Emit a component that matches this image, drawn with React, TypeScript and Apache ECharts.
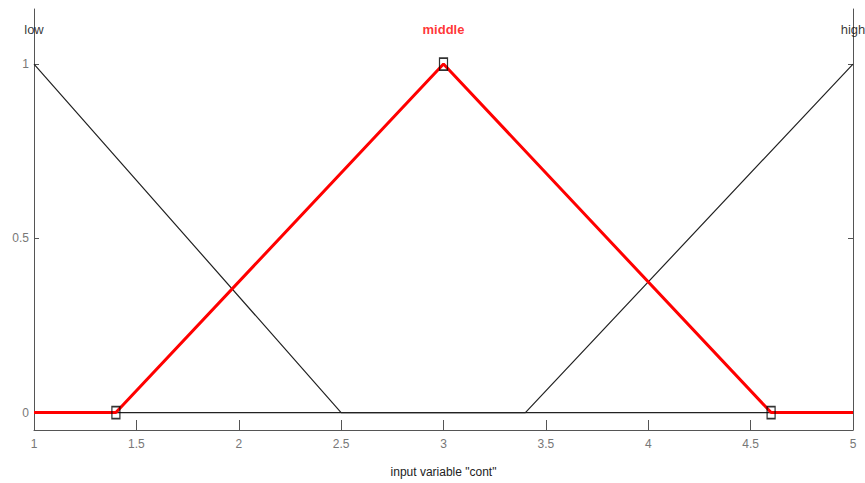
import React, { useEffect, useRef } from "react";
import * as echarts from "echarts";

const xTicks = [1, 1.5, 2, 2.5, 3, 3.5, 4, 4.5, 5];
const yTicks = [0, 0.5, 1];
const lowMF: [number, number][] = [[1, 1], [2.5, 0], [5, 0]];
const middleMF: [number, number][] = [[1, 0], [1.4, 0], [3, 1], [4.6, 0], [5, 0]];
const highMF: [number, number][] = [[1, 0], [3.4, 0], [5, 1]];
const middleVertices: [number, number][] = [[1.4, 0], [3, 1], [4.6, 0]];
const mfNames = ["low", "middle", "high"];
const mfNameX = [1, 3, 5];
const mfNameY = 1.1;
const xName = 'input variable "cont"';

const FONT = "'Liberation Sans Narrow', 'Liberation Sans', Arial, sans-serif";

export default function App() {
  const ref = useRef<HTMLDivElement>(null);
  useEffect(() => {
    if (!ref.current) return;
    const chart = echarts.init(ref.current, null, { renderer: "svg" });
    const yAxisBase = {
      type: "value" as const,
      min: -0.05,
      max: 1.158,
      splitLine: { show: false },
      axisLine: { show: true, lineStyle: { color: "#555", width: 1 } },
      axisTick: {
        show: true,
        inside: true,
        length: 5,
        customValues: yTicks,
        lineStyle: { color: "#555" },
      },
    };
    chart.setOption({
      animation: false,
      backgroundColor: "#ffffff",
      grid: { left: 34, right: 12, top: 9, bottom: 53, containLabel: false },
      xAxis: {
        type: "value",
        min: 1,
        max: 5,
        interval: 0.5,
        name: xName,
        nameLocation: "middle",
        nameGap: 36,
        nameTextStyle: { fontFamily: FONT, fontSize: 12, color: "#222" },
        splitLine: { show: false },
        axisLine: { show: true, onZero: false, lineStyle: { color: "#555", width: 1 } },
        axisTick: { show: true, inside: true, length: 10, lineStyle: { color: "#555" } },
        axisLabel: {
          fontFamily: FONT,
          fontSize: 12,
          color: "#777",
          margin: 8,
          customValues: xTicks,
          formatter: (v: number) => String(v),
        },
      },
      yAxis: [
        {
          ...yAxisBase,
          position: "left",
          axisLabel: {
            show: true,
            fontFamily: FONT,
            fontSize: 12,
            color: "#777",
            margin: 5,
            customValues: yTicks,
            formatter: (v: number) => String(v),
          },
        },
        {
          ...yAxisBase,
          position: "right",
          axisLabel: { show: false },
        },
      ],
      series: [
        {
          name: "low",
          type: "line",
          data: lowMF,
          symbol: "none",
          lineStyle: { color: "#222", width: 1.2 },
          z: 2,
        },
        {
          name: "high",
          type: "line",
          data: highMF,
          symbol: "none",
          lineStyle: { color: "#222", width: 1.2 },
          z: 2,
        },
        {
          name: "middle",
          type: "line",
          data: middleMF,
          symbol: "none",
          lineStyle: { color: "#ff0000", width: 3 },
          z: 3,
        },
        {
          name: "vertices",
          type: "scatter",
          data: middleVertices,
          symbol: "rect",
          symbolSize: [8, 12],
          itemStyle: { color: "rgba(0,0,0,0)", borderColor: "#000", borderWidth: 1.5 },
          z: 4,
        },
        {
          name: "labels",
          type: "scatter",
          symbol: "circle",
          symbolSize: 1,
          itemStyle: { color: "rgba(0,0,0,0)" },
          data: mfNames.map((n, i) => ({
            value: [mfNameX[i], mfNameY],
            label: {
              show: true,
              position: "inside",
              formatter: n,
              fontFamily: FONT,
              fontSize: 13,
              fontWeight: n === "middle" ? "bold" : "normal",
              color: n === "middle" ? "#ff0000" : "#000",
            },
          })),
          z: 5,
        },
      ],
    });
    return () => chart.dispose();
  }, []);
  return (
    <div
      ref={ref}
      style={{ position: "fixed", left: 0, top: 0, width: 865, height: 483 }}
    />
  );
}
